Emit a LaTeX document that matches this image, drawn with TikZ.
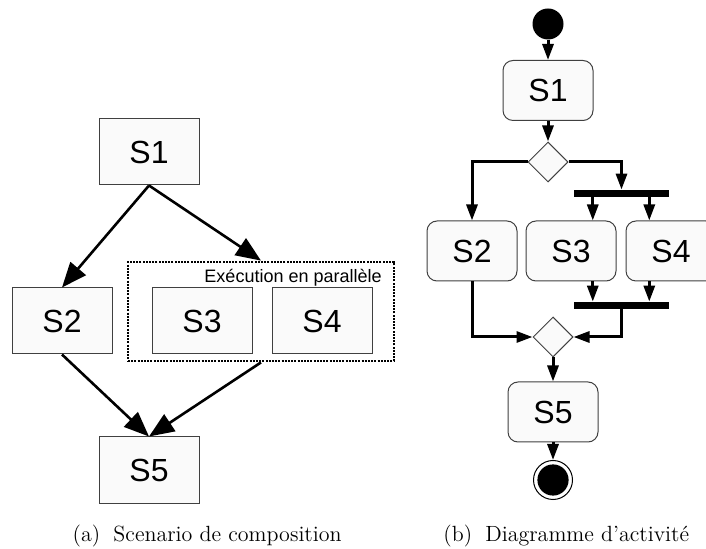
\documentclass[tikz,border=0pt]{standalone}
\usepackage{fontspec}
\usepackage{tikz}
\usetikzlibrary{arrows.meta,calc,shapes.geometric}
\newfontfamily\diagfont{Liberation Sans}
\definecolor{BoxBorder}{HTML}{404040}
\definecolor{BoxFill}{HTML}{FAFAFA}

\begin{document}
\begin{tikzpicture}[x=0.5pt,y=-0.5pt,
    service/.style={draw=BoxBorder,fill=BoxFill,line width=0.5pt,inner sep=0pt,
      minimum width=50pt,minimum height=33pt,font=\diagfont\fontsize{16}{18}\selectfont},
    activity/.style={service,rounded corners=5pt,minimum width=45pt,minimum height=30pt},
    decision/.style={diamond,draw=BoxBorder,fill=BoxFill,line width=0.5pt,inner sep=0pt,
      minimum width=20pt,minimum height=20pt},
    syncbar/.style={fill=black,inner sep=0pt,minimum width=47.5pt,minimum height=3.5pt},
    bigarrow/.style={-{Triangle[length=12.5pt,width=10pt]},line width=1.3pt},
    flow/.style={-{Triangle[length=8pt,width=5.5pt]},line width=1.5pt}]
    \clip (0,0) rectangle (706,549);
    % (a) scenario
    \node[service] (s1) at (149,152) {S1};
    \node[service] (s2) at (62,321) {S2};
    \node[service] (s3) at (202,321) {S3};
    \node[service] (s4) at (322,321) {S4};
    \node[service] (s5) at (149,470) {S5};
    \node[draw,line width=1.4pt,dash pattern=on 1pt off 0.6pt,inner sep=0pt,
      minimum width=133pt,minimum height=49.5pt] (par) at (261,311.5) {};
    \node[anchor=base east,inner sep=0pt,font=\diagfont\fontsize{9}{11}\selectfont]
      (parlabel) at (382,283) {Exécution en parallèle};
    \draw[bigarrow] (s1.south) -- (s2.north);
    \draw[bigarrow] (s1.south) -- (par.north);
    \draw[bigarrow] (s2.south) -- (s5.north);
    \draw[bigarrow] (par.south) -- (s5.north);
    % (b) activity diagram
    \node[circle,fill=black,minimum size=15.5pt,inner sep=0pt] (start) at (548,24) {};
    \node[activity] (a1) at (548,90.5) {S1};
    \node[decision] (split) at (548,162) {};
    \node[activity] (a2) at (472,251) {S2};
    \node[activity] (a3) at (571,251) {S3};
    \node[activity] (a4) at (671,251) {S4};
    \node[syncbar] (fork) at (621.5,193.5) {};
    \node[syncbar] (join) at (621.5,305.5) {};
    \node[decision] (merge) at (553,337) {};
    \node[activity] (a5) at (553,412) {S5};
    \node[circle,draw,line width=0.5pt,minimum size=19.5pt,inner sep=0pt] (stop) at (553,480) {};
    \fill (stop.center) circle (7.8pt);
    \coordinate (f3) at ($(fork.south west)!0.2!(fork.south east)$);
    \coordinate (f4) at ($(fork.south west)!0.79!(fork.south east)$);
    \draw[flow] (start) -- (a1);
    \draw[flow] (a1) -- (split);
    \draw[flow] (split.west) -| (a2.north);
    \draw[flow] (split.east) -| (fork.north);
    \draw[flow] (f3) -- (f3 |- a3.north);
    \draw[flow] (f4) -- (f4 |- a4.north);
    \draw[flow] (f3 |- a3.south) -- (f3 |- join.north);
    \draw[flow] (f4 |- a4.south) -- (f4 |- join.north);
    \draw[flow] (join.south) |- (merge.east);
    \draw[flow] (a2.south) |- (merge.west);
    \draw[flow] (merge) -- (a5);
    \draw[flow] (a5) -- (stop);
    % captions
    \node[anchor=base east,inner sep=0pt,font=\fontsize{11}{13}\selectfont]
      (capa) at (342,541) {(a)\hspace{0.6em}Scenario de composition};
    \node[anchor=base west,inner sep=0pt,font=\fontsize{11}{13}\selectfont]
      (capb) at (443,541) {(b)\hspace{0.6em}Diagramme d'activité};
\end{tikzpicture}
\end{document}
